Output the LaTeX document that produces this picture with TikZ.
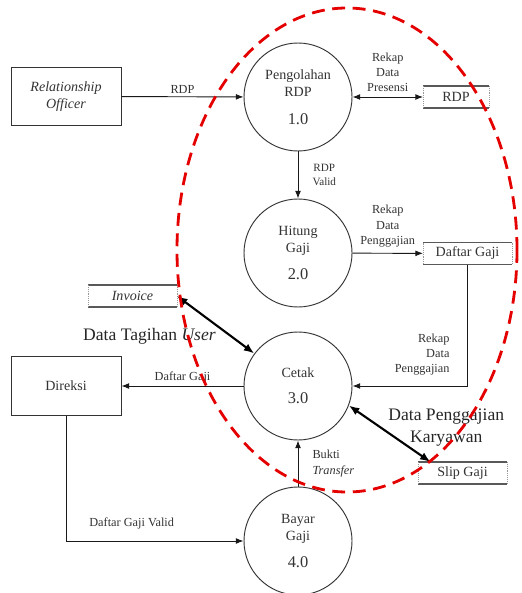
\documentclass[tikz,border=0pt]{standalone}
\usepackage{fontspec}
\setmainfont{Liberation Serif}
\usetikzlibrary{arrows.meta,calc,positioning,shapes}
\newdimen\cdim
\newdimen\edim
\newdimen\sdim
\cdim=3.24cm
\edim=3.3cm
\sdim=2.67cm
\newcommand{\setfs}[2]{\fontsize{#1}{#2}\selectfont}
\newcommand{\nomor}[1]{{\setfs{14}{16}#1}}
\tikzstyle{process}=[
  align=center,
  circle,
  draw=black!80,
  font={\setfs{12}{14.5}},
  inner sep=0pt,
  line width=0.8pt,
  minimum size=\cdim,
  text=black!80,
]
\tikzstyle{entity}=[
  align=center,
  draw=black!80,
  font={\setfs{12}{14.5}},
  line width=0.8pt,
  minimum height=1.76cm,
  minimum width=\edim,
  rectangle,
  text=black!80,
]
\tikzstyle{store}=[
  font={\setfs{12}{14}},
  inner sep=0pt,
  minimum height=0.66cm,
  minimum width=\sdim,
  outer sep=0pt,
  rectangle,
  text=black!80,
]
\tikzstyle{storeedge}=[
  draw=black!65,
  line width=1.4pt,
]
\tikzstyle{storeside}=[
  draw=black!40,
  densely dotted,
  line width=0.6pt,
]
\tikzstyle{flow}=[
  ->,
  draw=black!90,
  line width=0.8pt,
]
\tikzstyle{bigflow}=[
  {Latex[length=9pt,width=7pt]}-{Latex[length=9pt,width=7pt]},
  draw=black,
  line width=1.8pt,
]
\tikzstyle{flowlabel}=[
  align=center,
  font={\setfs{10.5}{13}},
  inner sep=2pt,
  text=black!80,
]
\tikzstyle{biglabel}=[
  align=center,
  font={\setfs{15}{19}},
  inner sep=2pt,
  text=black!85,
]
\tikzstyle{boundary}=[
  dash pattern=on 11pt off 6.5pt,
  draw=red!90!black,
  line width=2.4pt,
]
\tikzset{
  >={Latex[length=6.5pt,width=5pt]},
}

\begin{document}
\begin{tikzpicture}[x=0.03cm, y=-0.03cm]
    \useasboundingbox (0,0) rectangle (521,593);
    % processes
    \node (olah) [process] at (298,97) {Pengolahan\\RDP\\[9pt]\nomor{1.0}};
    \node (hitung) [process] at (298,253) {Hitung\\Gaji\\[9pt]\nomor{2.0}};
    \node (cetak) [process] at (298,386) {Cetak\\[8pt]\nomor{3.0}};
    \node (bayar) [process] at (298,541) {Bayar\\Gaji\\[9pt]\nomor{4.0}};
    % external entities
    \node (officer) [entity, font={\setfs{12}{14.5}\itshape}] at (66,96.5) {Relationship\\Officer};
    \node (direksi) [entity] at (66,386) {Direksi};
    % data stores
    \node (rdp) [store, minimum width=1.98cm] at (456,97) {RDP};
    \node (daftargaji) [store] at (467.5,253.5) {Daftar Gaji};
    \node (invoice) [store, font={\setfs{12}{14}\itshape}] at (132.5,296) {Invoice};
    \node (slipgaji) [store] at (462.5,473) {Slip Gaji};
    \foreach \s in {rdp,daftargaji,invoice,slipgaji} {
      \draw [storeedge] (\s.north west) -- (\s.north east) (\s.south west) -- (\s.south east);
      \draw [storeside] (\s.north west) -- (\s.south west) (\s.north east) -- (\s.south east);
    }
    % flows
    \draw [flow] (officer) -- node [flowlabel, above] {RDP} (olah);
    \draw [flow, <->] (olah) -- node [flowlabel, above=2pt] {Rekap\\Data\\Presensi} (rdp);
    \draw [flow] (olah) -- node [flowlabel, right=10pt, font={\setfs{9.5}{12}}] {RDP\\Valid} (hitung);
    \draw [flow] (hitung) -- node [flowlabel, above=3pt] {Rekap\\Data\\Penggajian} (daftargaji);
    \draw [flow] (daftargaji) |- node [flowlabel, pos=0.37, left=13pt, align=right] {Rekap\\Data\\Penggajian} (cetak);
    \draw [bigflow] (invoice.east) -- node [biglabel, midway, anchor=north east, xshift=3pt] {Data Tagihan \textit{User}} (cetak);
    \draw [flow] (cetak) -- node [flowlabel, above] {Daftar Gaji} (direksi);
    \draw [bigflow] (cetak.-21) -- node [biglabel, midway, anchor=west, xshift=-4pt, yshift=5pt] {Data Penggajian\\Karyawan} (slipgaji.161);
    \draw [flow] (bayar) -- node [flowlabel, right=10pt, align=left] {Bukti\\\textit{Transfer}} (cetak);
    \draw [flow] (direksi) |- node [flowlabel, pos=0.685, above=8pt] {Daftar Gaji Valid} (bayar);
    % boundary
    \draw [boundary] (347,250) ellipse [x radius=5.1cm, y radius=7.26cm];
\end{tikzpicture}
\end{document}
